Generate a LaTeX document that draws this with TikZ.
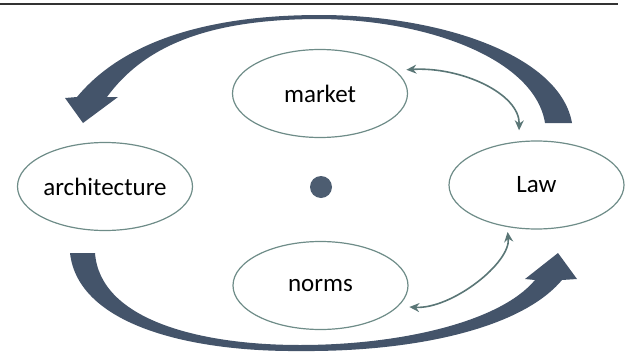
\documentclass[tikz,border=0pt]{standalone}
\usepackage{fontspec}
\setmainfont{Carlito}
\usetikzlibrary{arrows.meta,shapes.geometric}
\definecolor{slate}{HTML}{44546A}
\definecolor{rim}{HTML}{6E8C88}
\definecolor{thinlink}{HTML}{5A7676}

\begin{document}
\begin{tikzpicture}[x=0.5pt,y=-0.5pt,>={Stealth[length=5pt,width=4.5pt]},
  force/.style={ellipse,draw=rim,line width=0.6pt,minimum width=87.5pt,
    minimum height=44pt,inner sep=0pt,font=\fontsize{12.5}{14}\selectfont},
  bigarrow/.style={fill=slate},
  link/.style={draw=thinlink,line width=0.8pt,<->}]
\useasboundingbox (0,0) rectangle (627,354);

%% top rule
\draw[line width=1pt,black!80] (0,3.5) -- (618,3.5);

\node[force] (market) at (320,93.5) {market};
\node[force] (norms) at (320.5,285.5) {norms};
\node[force] (arch) at (105,186.5) {architecture};
\node[force] (law) at (536.5,185) {Law};
\fill[slate!95!white] (321,187) circle(5.5pt);

%% big curved arrow on top: tail at the right, head at the left
\fill[bigarrow] (572,123) .. controls (560,55) and (440,15) .. (320,15)
  .. controls (200,15) and (120,45) .. (77,97)
  -- (65,98) -- (83,123) -- (118,97) -- (107,97)
  .. controls (145,45) and (210,19) .. (320,19)
  .. controls (430,20) and (535,60) .. (545,123) -- cycle;

%% big curved arrow below: tail at the left, head at the right
\fill[bigarrow] (70,253) .. controls (78,325) and (190,352) .. (300,351)
  .. controls (410,352) and (520,330) .. (562,280)
  -- (577,279) -- (558,253) -- (525,279) -- (535,280)
  .. controls (500,322) and (400,345) .. (300,345)
  .. controls (200,345) and (100,320) .. (95,253) -- cycle;

%% thin links to Law
\draw[link,shorten <=5.5pt,shorten >=5.5pt] (market.17)
  .. controls +(65,-4) and +(1,-48) .. (law.112);
\draw[link,shorten <=5.5pt,shorten >=2.5pt] (norms.-15.6)
  .. controls +(53,3) and +(4,36) .. (law.235.4);
\end{tikzpicture}
\end{document}
